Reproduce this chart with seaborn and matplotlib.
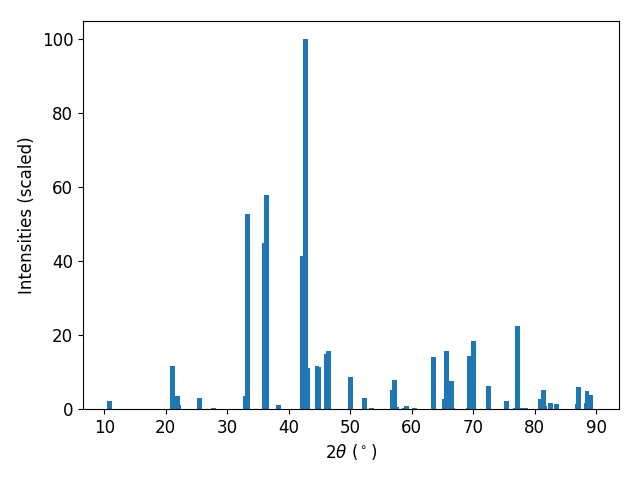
import matplotlib
matplotlib.use("Agg")
import matplotlib.pyplot as plt
import seaborn as sns
import pandas as pd

two_theta = [10.9, 21.07, 21.9, 22.05, 25.5, 27.7, 33.0, 33.25, 36.1, 36.33,
             38.4, 42.3, 42.8, 43.05, 44.6, 44.9, 46.2, 46.4, 50.0, 52.3,
             53.5, 56.85, 57.2, 57.5, 58.8, 59.1, 60.4, 63.5, 65.3, 65.6,
             66.5, 66.7, 69.25, 69.4, 70.0, 72.5, 75.4, 76.9, 77.2, 78.0,
             78.5, 80.9, 81.4, 81.6, 82.6, 83.6, 86.95, 87.1, 88.35, 88.5,
             89.1]
intensity = [2.2, 11.7, 3.5, 1.0, 3.0, 0.3, 3.5, 52.8, 45.0, 58.0,
             1.1, 41.5, 100.0, 11.1, 11.7, 11.5, 14.9, 15.7, 8.7, 3.0,
             0.3, 5.1, 7.9, 0.5, 0.3, 0.8, 0.3, 14.1, 2.7, 15.7,
             7.6, 0.3, 0.3, 14.4, 18.4, 6.2, 2.2, 0.3, 22.5, 0.4,
             0.3, 2.7, 5.1, 0.8, 1.6, 1.4, 1.4, 5.9, 1.6, 4.9,
             3.8]
x_ticks = [10, 20, 30, 40, 50, 60, 70, 80, 90]

plt.rcParams["font.size"] = 12
df = pd.DataFrame({"two_theta": two_theta, "intensity": intensity})

fig, ax = plt.subplots(figsize=(6.4, 4.8), dpi=100)
sns.barplot(data=df, x="two_theta", y="intensity", native_scale=True,
            color="#1f77b4", saturation=1, errorbar=None, ax=ax)

# set each bar to the standard 0.8 width, centred on its 2-theta value
bar_w = 0.8
for patch in ax.patches:
    c = patch.get_x() + patch.get_width() / 2
    patch.set_x(c - bar_w / 2)
    patch.set_width(bar_w)
    patch.set_linewidth(0)

ax.set_xlim(6.55, 93.7)
ax.set_ylim(0, 105)
ax.set_xticks(x_ticks)
ax.set_xticklabels([str(v) for v in x_ticks])
ax.set_xlabel(r"$2\theta$ ($^\circ$)")
ax.set_ylabel("Intensities (scaled)")
fig.subplots_adjust(left=83 / 640, right=619 / 640, top=1 - 21 / 480, bottom=1 - 409 / 480)
fig.savefig("out.png", dpi=100)
